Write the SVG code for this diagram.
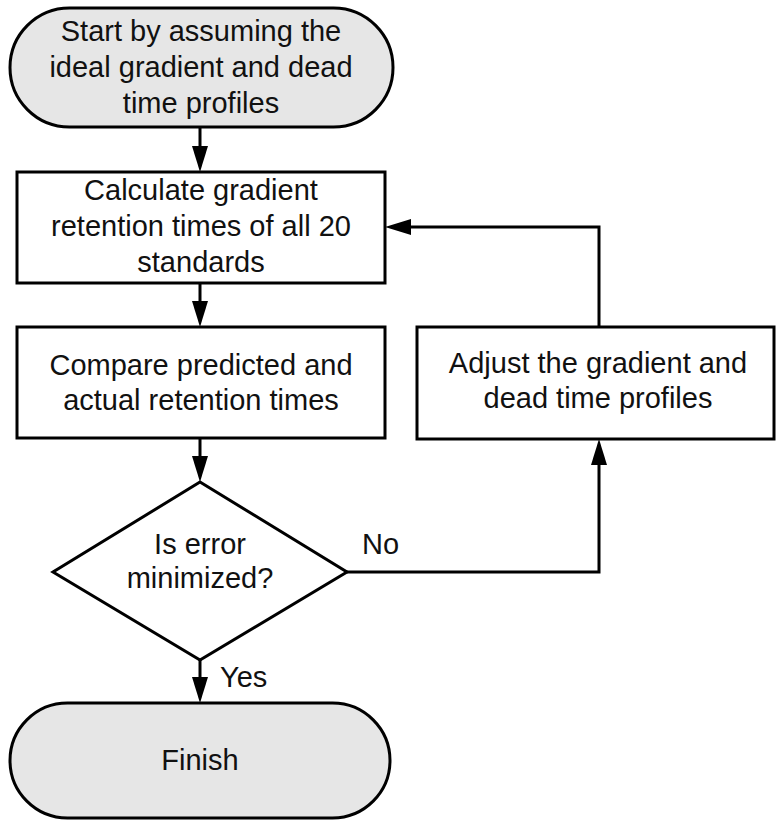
<svg xmlns="http://www.w3.org/2000/svg" width="776" height="821" viewBox="0 0 776 821">
<style>
.shape{stroke:#000;stroke-width:3;}
.term{fill:#e6e6e6;}
.box{fill:#fff;}
.t{font-family:"Liberation Sans",Arial,sans-serif;font-size:29px;fill:#111;text-anchor:middle;}
.lbl{font-family:"Liberation Sans",Arial,sans-serif;font-size:29px;fill:#111;}
.conn{fill:none;stroke:#000;stroke-width:3;}
</style>
<defs>
<marker id="arr" markerUnits="userSpaceOnUse" markerWidth="26" markerHeight="16" refX="16" refY="8" orient="auto">
<path d="M0,0 L26,8 L0,16 z" fill="#000"/>
</marker>
</defs>
<rect width="776" height="821" fill="#fff"/>
<g id="start">
<rect class="shape term" x="10" y="8" width="383" height="119" rx="59.5"/>
<text class="t" x="201" y="41">Start by assuming the</text>
<text class="t" x="201" y="77">ideal gradient and dead</text>
<text class="t" x="201" y="113">time profiles</text>
</g>
<g id="calc">
<rect class="shape box" x="17" y="172" width="368" height="111"/>
<text class="t" x="201" y="200">Calculate gradient</text>
<text class="t" x="201" y="236">retention times of all 20</text>
<text class="t" x="201" y="272">standards</text>
</g>
<g id="compare">
<rect class="shape box" x="17" y="327" width="368" height="111"/>
<text class="t" x="201" y="375">Compare predicted and</text>
<text class="t" x="201" y="410">actual retention times</text>
</g>
<g id="adjust">
<rect class="shape box" x="417" y="327" width="357" height="112"/>
<text class="t" x="598" y="373">Adjust the gradient and</text>
<text class="t" x="598" y="408">dead time profiles</text>
</g>
<g id="decision">
<polygon class="shape box" points="200,482 347,572 200,660 53,572"/>
<text class="t" x="200" y="554">Is error</text>
<text class="t" x="200" y="588">minimized?</text>
</g>
<g id="finish">
<rect class="shape term" x="10" y="703" width="380" height="115" rx="57.5"/>
<text class="t" x="200" y="770">Finish</text>
</g>
<g id="connectors">
<path class="conn" d="M200 127 V162" marker-end="url(#arr)"/>
<path class="conn" d="M200 283 V317" marker-end="url(#arr)"/>
<path class="conn" d="M200 438 V472" marker-end="url(#arr)"/>
<path class="conn" d="M200 660 V693" marker-end="url(#arr)"/>
<path class="conn" d="M347 572 H599 V449" marker-end="url(#arr)"/>
<path class="conn" d="M599 327 V227 H395" marker-end="url(#arr)"/>
<text class="lbl" x="362" y="554">No</text>
<text class="lbl" x="220" y="687">Yes</text>
</g>
</svg>
